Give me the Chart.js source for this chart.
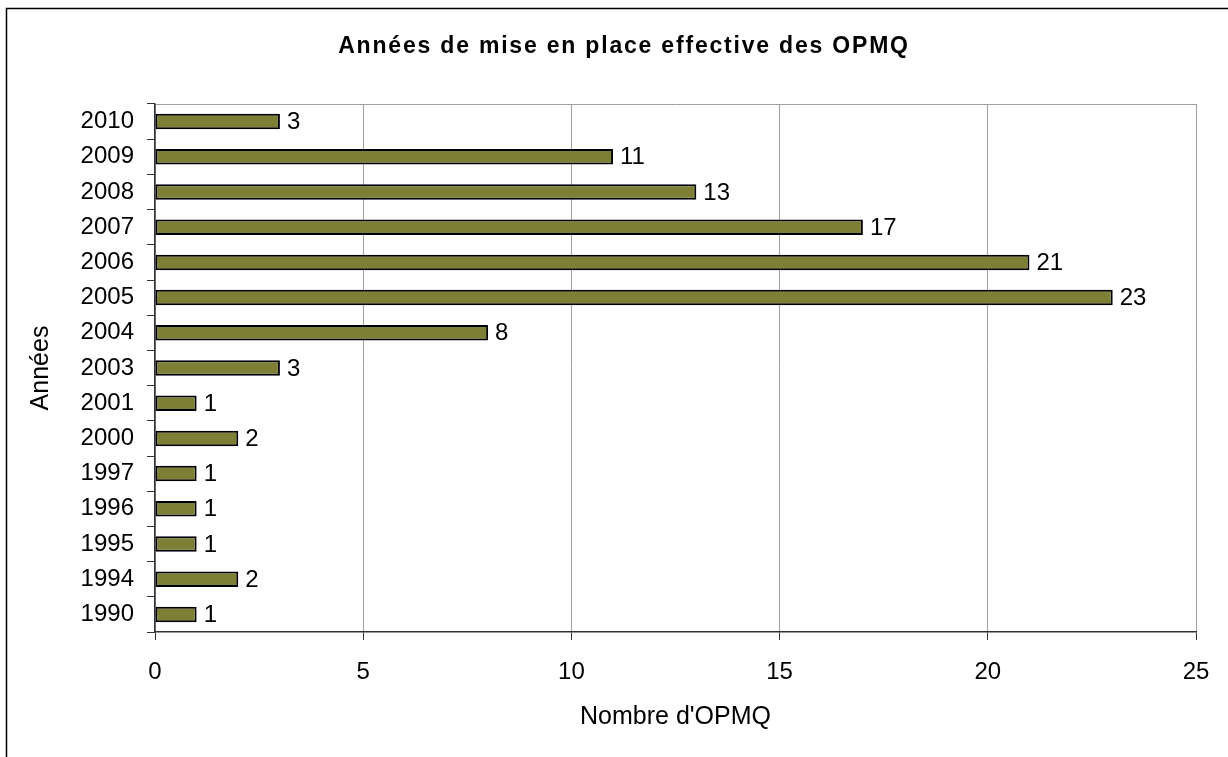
<!DOCTYPE html>
<html>
<head>
<meta charset="utf-8">
<script src="https://cdn.jsdelivr.net/npm/chart.js@4/dist/chart.umd.min.js"></script>
<style>
  html, body { margin: 0; padding: 0; background: #fff; }
  #wrap { width: 1228px; height: 757px; }
</style>
</head>
<body>
<div id="wrap"><canvas id="chart"></canvas></div>
<script>
const years = ["2010", "2009", "2008", "2007", "2006", "2005", "2004", "2003", "2001", "2000", "1997", "1996", "1995", "1994", "1990"];
const counts = [3, 11, 13, 17, 21, 23, 8, 3, 1, 2, 1, 1, 1, 2, 1];
const xTicks = [0, 5, 10, 15, 20, 25];
const chartTitle = "Années de mise en place effective des OPMQ";

const FONT = "'Liberation Sans', Arial, sans-serif";

// outer frame, top border of the plot area and the spaced-out title
const framePlugin = {
  id: "frame",
  beforeDraw(chart) {
    const ctx = chart.ctx;
    const a = chart.chartArea;
    ctx.save();
    ctx.strokeStyle = "#000";
    ctx.lineWidth = 1.5;
    ctx.strokeRect(6.5, 8.5, 1300, 900);
    ctx.strokeStyle = "#a0a0a0";
    ctx.lineWidth = 1;
    ctx.beginPath();
    ctx.moveTo(a.left, a.top + 0.5);
    ctx.lineTo(a.right, a.top + 0.5);
    ctx.stroke();

    ctx.fillStyle = "#000";
    ctx.font = "bold 23px " + FONT;
    ctx.letterSpacing = "1.8px";
    ctx.textAlign = "center";
    ctx.textBaseline = "alphabetic";
    ctx.fillText(chartTitle, 624, 53);
    ctx.restore();
  }
};

// value labels at the end of each bar
const valueLabels = {
  id: "valueLabels",
  afterDatasetsDraw(chart) {
    const ctx = chart.ctx;
    const meta = chart.getDatasetMeta(0);
    ctx.save();
    ctx.font = "24px " + FONT;
    ctx.fillStyle = "#000";
    ctx.textAlign = "left";
    ctx.textBaseline = "middle";
    meta.data.forEach((bar, i) => {
      ctx.fillText(String(counts[i]), bar.x + 7, bar.y + 1);
    });
    ctx.restore();
  }
};

new Chart(document.getElementById("chart"), {
  type: "bar",
  data: {
    labels: years,
    datasets: [{
      data: counts,
      backgroundColor: "#7d7f35",
      borderColor: "#000",
      borderWidth: 2,
      borderSkipped: false,
      categoryPercentage: 1,
      barPercentage: 0.44
    }]
  },
  options: {
    indexAxis: "y",
    responsive: true,
    maintainAspectRatio: false,
    animation: false,
    layout: { padding: { left: 0, right: 32, top: 104, bottom: 0 } },
    scales: {
      x: {
        min: 0,
        max: 25,
        afterBuildTicks(scale) {
          scale.ticks = xTicks.map(v => ({ value: v }));
        },
        afterFit(scale) { scale.height = 125; },
        grid: { color: "#a0a0a0", tickColor: "#333", tickLength: 8, lineWidth: 1 },
        border: { color: "#333", width: 1.5 },
        ticks: { color: "#000", font: { family: FONT, size: 24 }, padding: 18 },
        title: {
          display: true,
          text: "Nombre d'OPMQ",
          color: "#000",
          font: { family: FONT, size: 25 },
          padding: { top: 0, bottom: 25 }
        }
      },
      y: {
        offset: true,
        afterFit(scale) { scale.width = 155; },
        grid: { drawOnChartArea: false, offset: true, tickColor: "#333", tickLength: 8 },
        border: { color: "#333", width: 1.5 },
        ticks: { color: "#000", font: { family: FONT, size: 24 }, padding: 13 },
        title: {
          display: true,
          text: "Années",
          color: "#000",
          font: { family: FONT, size: 25 },
          padding: { top: 26, bottom: 0 }
        }
      }
    },
    plugins: {
      legend: { display: false },
      tooltip: { enabled: false },
      title: { display: false }
    }
  },
  plugins: [framePlugin, valueLabels]
});
</script>
</body>
</html>
